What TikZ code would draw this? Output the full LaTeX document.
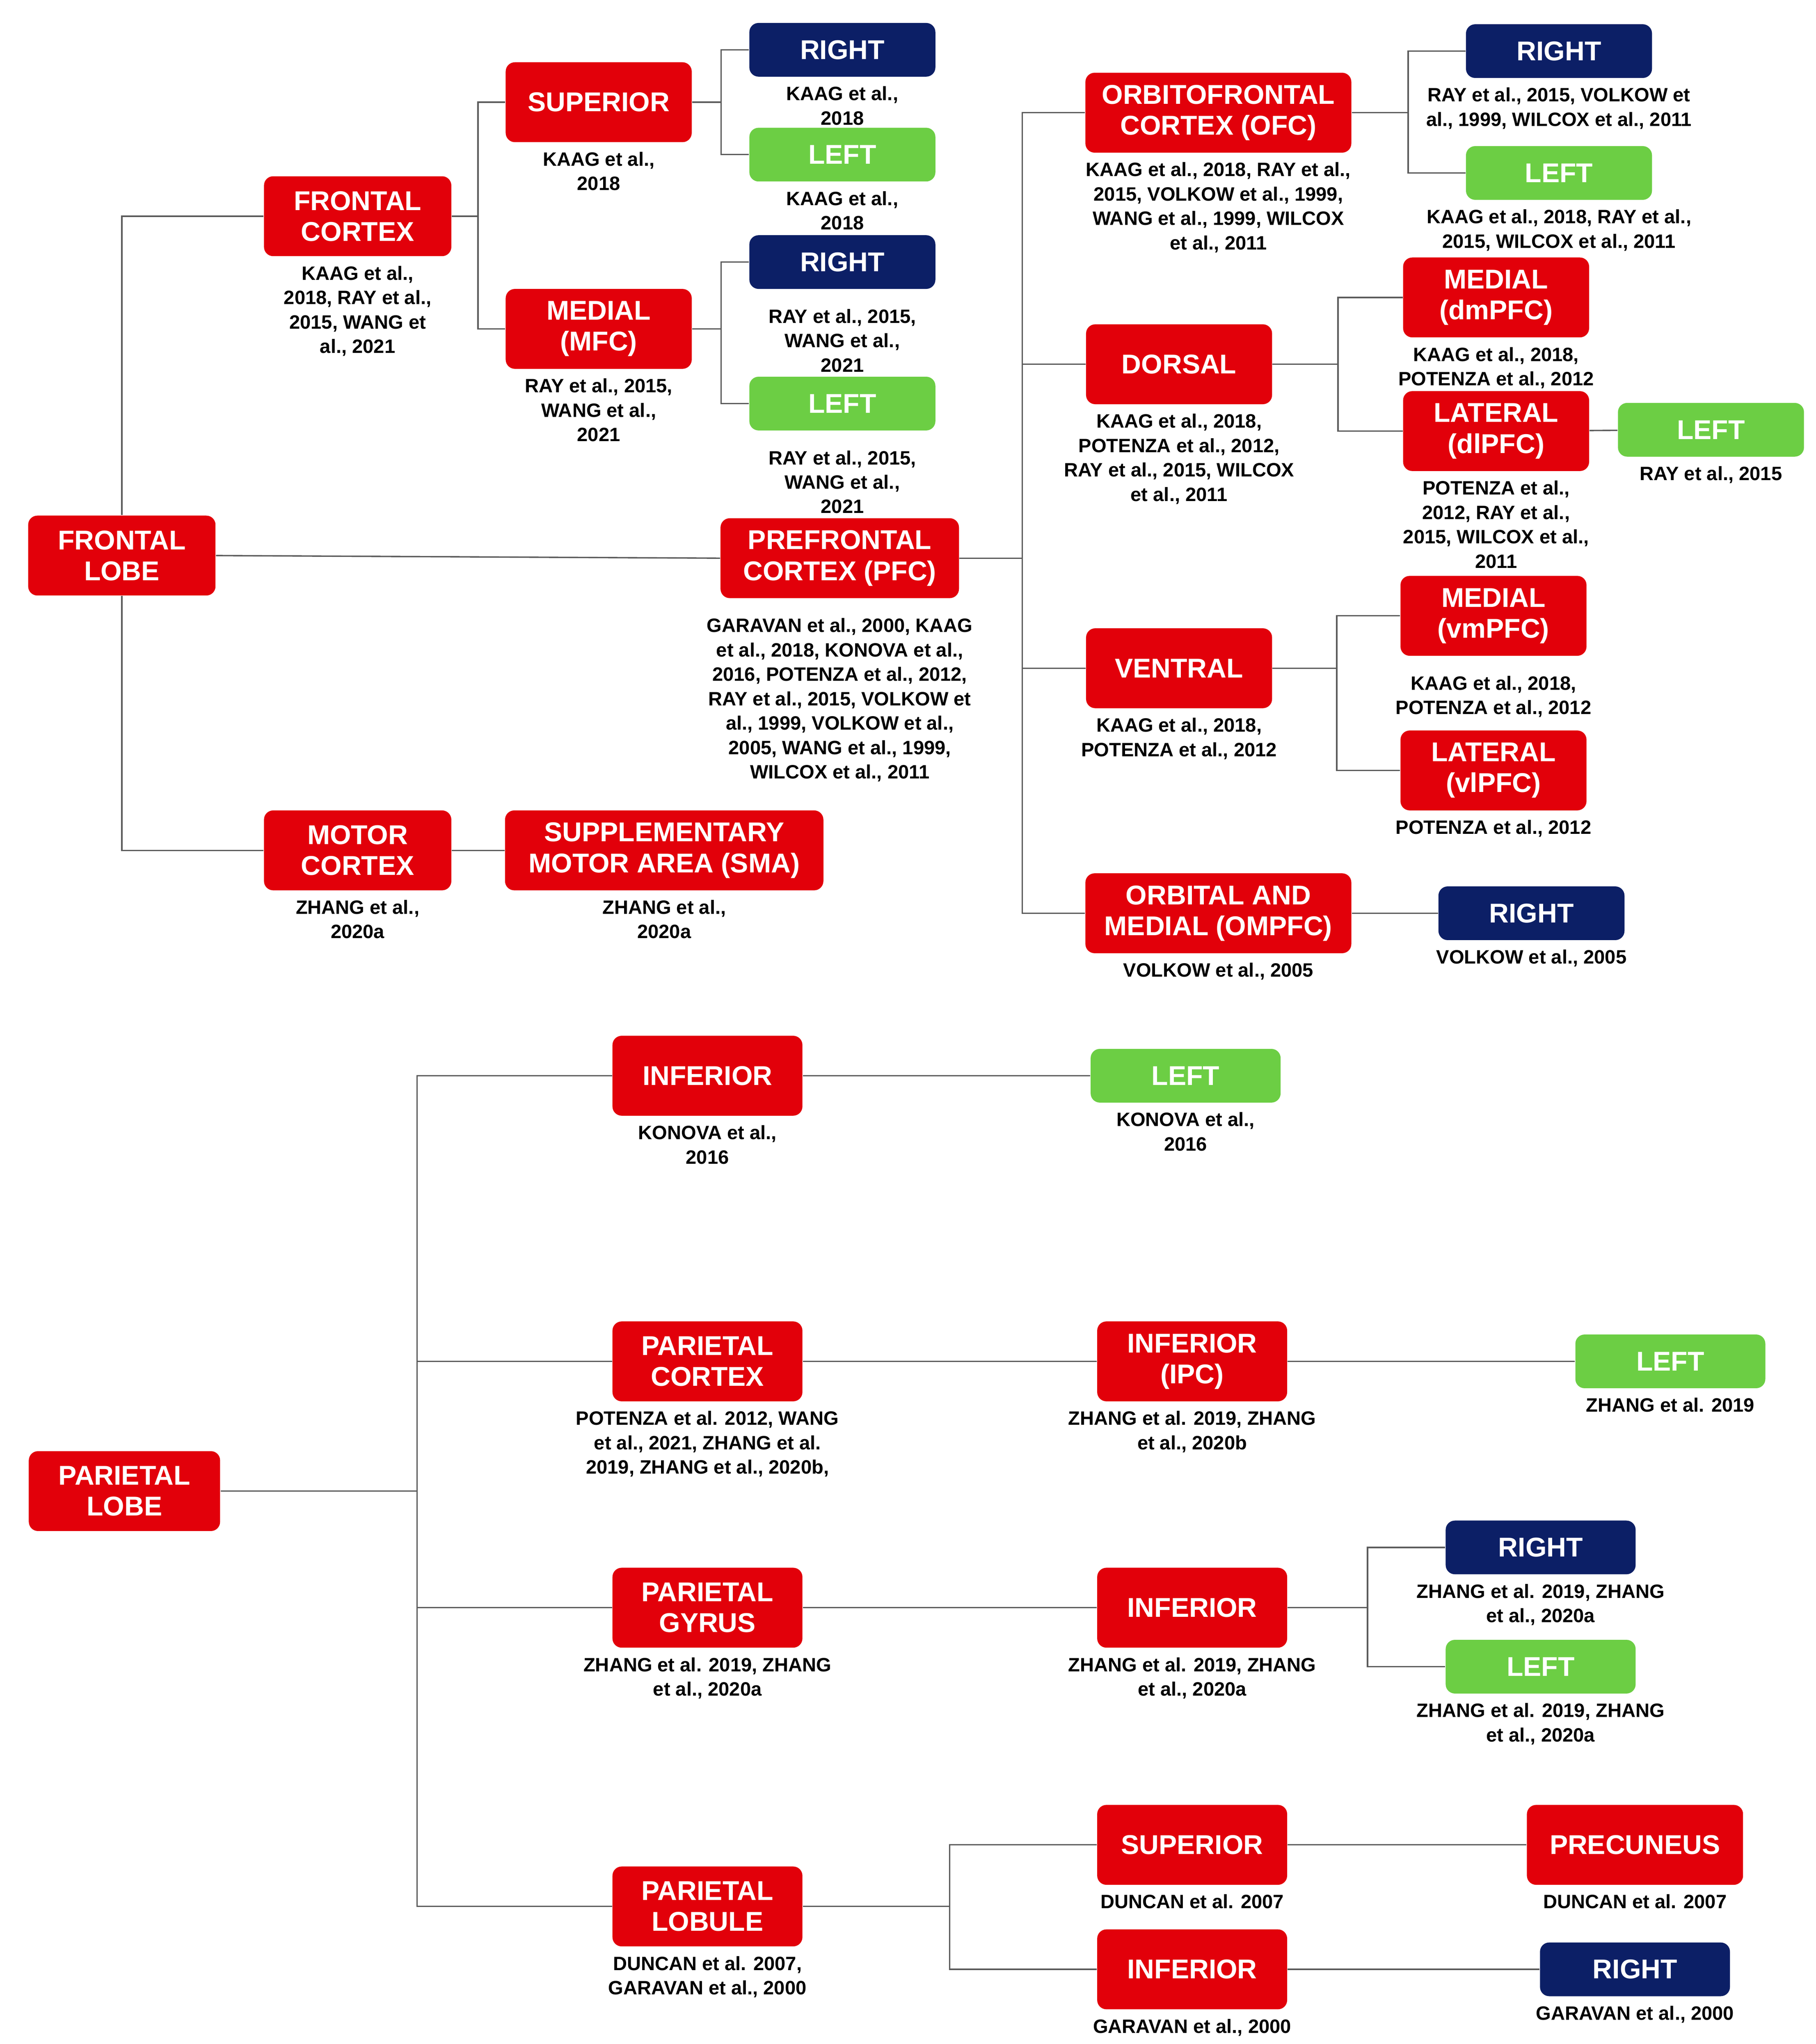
\documentclass[tikz,border=0pt]{standalone}
\usepackage{fontspec}
\setmainfont{Liberation Sans}
\definecolor{boxred}{RGB}{226,0,10}
\definecolor{boxnavy}{RGB}{12,31,102}
\definecolor{boxgreen}{RGB}{108,206,68}
\definecolor{wire}{RGB}{90,90,90}

\begin{document}
\begin{tikzpicture}[x=0.02cm, y=-0.02cm,
    box/.style={rounded corners=4pt, minimum width=#1*0.02cm, inner sep=0pt, text=white, align=center,
      font=\fontsize{11.8}{13.4}\selectfont\bfseries},
    red/.style={box=#1, fill=boxred, minimum height=1.22cm},
    nav/.style={box=#1, fill=boxnavy, minimum height=0.82cm},
    grn/.style={box=#1, fill=boxgreen, minimum height=0.82cm},
    cite/.style={font=\fontsize{8.4}{10.6}\selectfont\bfseries, align=center, label distance=0.5pt},
    wire/.style={draw=wire, line width=0.6pt}]
  \useasboundingbox (0,0) rectangle (1386,1560);

  % frontal lobe
  \node[red=143] (FL) at (93,424) {FRONTAL\\LOBE};
  \node[red=143, label={[cite]below:KAAG et al.,\\2018, RAY et al.,\\2015, WANG et\\al., 2021}] (FC) at (273,165) {FRONTAL\\CORTEX};
  \node[red=142, label={[cite]below:KAAG et al.,\\2018}] (SUP) at (457,78) {SUPERIOR};
  \node[red=142, label={[cite]below:RAY et al., 2015,\\WANG et al.,\\2021}] (MFC) at (457,251) {MEDIAL\\(MFC)};
  \node[nav=142, label={[cite]below:KAAG et al.,\\2018}] (R1) at (643,38) {RIGHT};
  \node[grn=142, label={[cite]below:KAAG et al.,\\2018}] (L1) at (643,118) {LEFT};
  \node[nav=142, label={[cite,label distance=5pt]below:RAY et al., 2015,\\WANG et al.,\\2021}] (R2) at (643,200) {RIGHT};
  \node[grn=142, label={[cite,label distance=5pt]below:RAY et al., 2015,\\WANG et al.,\\2021}] (L2) at (643,308) {LEFT};
  \node[red=182, label={[cite,label distance=5pt]below:GARAVAN et al., 2000, KAAG\\et al., 2018, KONOVA et al.,\\2016, POTENZA et al., 2012,\\RAY et al., 2015, VOLKOW et\\al., 1999, VOLKOW et al.,\\2005, WANG et al., 1999,\\WILCOX et al., 2011}] (PFC) at (641,426) {PREFRONTAL\\CORTEX (PFC)};
  \node[red=143, label={[cite]below:ZHANG et al.,\\2020a}] (MC) at (273,649) {MOTOR\\CORTEX};
  \node[red=243, label={[cite]below:ZHANG et al.,\\2020a}] (SMA) at (507,649) {SUPPLEMENTARY\\MOTOR AREA (SMA)};
  \node[red=203, label={[cite]below:KAAG et al., 2018, RAY et al.,\\2015, VOLKOW et al., 1999,\\WANG et al., 1999, WILCOX\\et al., 2011}] (OFC) at (930,86) {ORBITOFRONTAL\\CORTEX (OFC)};
  \node[nav=142, label={[cite]below:RAY et al., 2015, VOLKOW et\\al., 1999, WILCOX et al., 2011}] (R3) at (1190,39) {RIGHT};
  \node[grn=142, label={[cite]below:KAAG et al., 2018, RAY et al.,\\2015, WILCOX et al., 2011}] (L3) at (1190,132) {LEFT};
  \node[red=142, label={[cite]below:KAAG et al., 2018,\\POTENZA et al., 2012,\\RAY et al., 2015, WILCOX\\et al., 2011}] (DOR) at (900,278) {DORSAL};
  \node[red=142, label={[cite]below:KAAG et al., 2018,\\POTENZA et al., 2012}] (DM) at (1142,227) {MEDIAL\\(dmPFC)};
  \node[red=142, label={[cite]below:POTENZA et al.,\\2012, RAY et al.,\\2015, WILCOX et al.,\\2011}] (DL) at (1142,329) {LATERAL\\(dlPFC)};
  \node[grn=142, label={[cite]below:RAY et al., 2015}] (L4) at (1306,328) {LEFT};
  \node[red=142, label={[cite]below:KAAG et al., 2018,\\POTENZA et al., 2012}] (VEN) at (900,510) {VENTRAL};
  \node[red=142, label={[cite,label distance=5pt]below:KAAG et al., 2018,\\POTENZA et al., 2012}] (VM) at (1140,470) {MEDIAL\\(vmPFC)};
  \node[red=142, label={[cite]below:POTENZA et al., 2012}] (VL) at (1140,588) {LATERAL\\(vlPFC)};
  \node[red=203, label={[cite]below:VOLKOW et al., 2005}] (OM) at (930,697) {ORBITAL AND\\MEDIAL (OMPFC)};
  \node[nav=142, label={[cite]below:VOLKOW et al., 2005}] (R4) at (1169,697) {RIGHT};

  \draw[wire] (FL) |- (FC.west);
  \draw[wire] (FL) |- (MC.west);
  \draw[wire] (FL.east) -- (PFC.west);
  \draw[wire] (MC) -- (SMA);
  \draw[wire] (FC.east) -- ++(20,0) coordinate (fcb) |- (SUP.west);
  \draw[wire] (fcb) |- (MFC.west);
  \draw[wire] (SUP.east) -- ++(22,0) coordinate (supb) |- (R1.west);
  \draw[wire] (supb) |- (L1.west);
  \draw[wire] (MFC.east) -- ++(22,0) coordinate (mfcb) |- (R2.west);
  \draw[wire] (mfcb) |- (L2.west);
  \draw[wire] (PFC.east) -- ++(48,0) coordinate (pfcb) |- (OFC.west);
  \draw[wire] (pfcb) |- (DOR.west);
  \draw[wire] (pfcb) |- (VEN.west);
  \draw[wire] (pfcb) |- (OM.west);
  \draw[wire] (OFC.east) -- ++(43,0) coordinate (ofcb) |- (R3.west);
  \draw[wire] (ofcb) |- (L3.west);
  \draw[wire] (DOR.east) -- ++(50,0) coordinate (dorb) |- (DM.west);
  \draw[wire] (dorb) |- (DL.west);
  \draw[wire] (DL) -- (L4);
  \draw[wire] (VEN.east) -- ++(49,0) coordinate (venb) |- (VM.west);
  \draw[wire] (venb) |- (VL.west);
  \draw[wire] (OM) -- (R4);

  % parietal lobe
  \node[red=146] (PL) at (95,1138) {PARIETAL\\LOBE};
  \node[red=145, label={[cite]below:KONOVA et al.,\\2016}] (INF1) at (540,821) {INFERIOR};
  \node[grn=145, label={[cite]below:KONOVA et al.,\\2016}] (L5) at (905,821) {LEFT};
  \node[red=145, label={[cite]below:POTENZA et al. 2012, WANG\\et al., 2021, ZHANG et al.\\2019, ZHANG et al., 2020b,}] (PC) at (540,1039) {PARIETAL\\CORTEX};
  \node[red=145, label={[cite]below:ZHANG et al. 2019, ZHANG\\et al., 2020b}] (IPC) at (910,1039) {INFERIOR\\(IPC)};
  \node[grn=145, label={[cite]below:ZHANG et al. 2019}] (L6) at (1275,1039) {LEFT};
  \node[red=145, label={[cite]below:ZHANG et al. 2019, ZHANG\\et al., 2020a}] (PG) at (540,1227) {PARIETAL\\GYRUS};
  \node[red=145, label={[cite]below:ZHANG et al. 2019, ZHANG\\et al., 2020a}] (INF2) at (910,1227) {INFERIOR};
  \node[nav=145, label={[cite]below:ZHANG et al. 2019, ZHANG\\et al., 2020a}] (R5) at (1176,1181) {RIGHT};
  \node[grn=145, label={[cite]below:ZHANG et al. 2019, ZHANG\\et al., 2020a}] (L7) at (1176,1272) {LEFT};
  \node[red=145, label={[cite]below:DUNCAN et al. 2007,\\GARAVAN et al., 2000}] (PLB) at (540,1455) {PARIETAL\\LOBULE};
  \node[red=145, label={[cite]below:DUNCAN et al. 2007}] (SUP2) at (910,1408) {SUPERIOR};
  \node[red=165, label={[cite]below:DUNCAN et al. 2007}] (PREC) at (1248,1408) {PRECUNEUS};
  \node[red=145, label={[cite]below:GARAVAN et al., 2000}] (INF3) at (910,1503) {INFERIOR};
  \node[nav=145, label={[cite]below:GARAVAN et al., 2000}] (R6) at (1248,1503) {RIGHT};

  \draw[wire] (PL.east) -- ++(150,0) coordinate (plb) |- (INF1.west);
  \draw[wire] (plb) |- (PC.west);
  \draw[wire] (plb) |- (PG.west);
  \draw[wire] (plb) |- (PLB.west);
  \draw[wire] (INF1) -- (L5);
  \draw[wire] (PC) -- (IPC);
  \draw[wire] (IPC) -- (L6);
  \draw[wire] (PG) -- (INF2);
  \draw[wire] (INF2.east) -- ++(61,0) coordinate (infb) |- (R5.west);
  \draw[wire] (infb) |- (L7.west);
  \draw[wire] (PLB.east) -- ++(112,0) coordinate (plbb) |- (SUP2.west);
  \draw[wire] (plbb) |- (INF3.west);
  \draw[wire] (SUP2) -- (PREC);
  \draw[wire] (INF3) -- (R6);
\end{tikzpicture}
\end{document}
